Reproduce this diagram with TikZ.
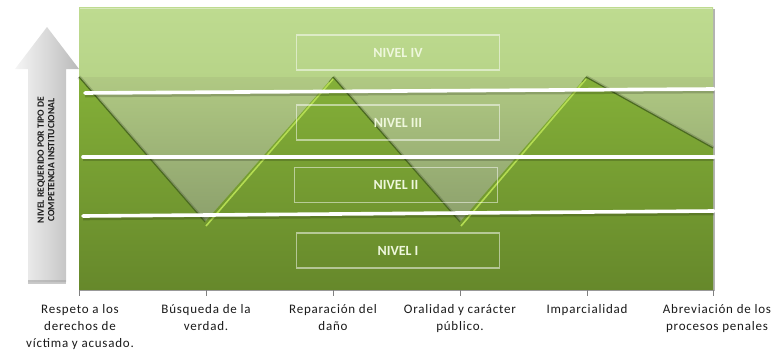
\documentclass[tikz,border=0pt]{standalone}
\usepackage{fontspec}
\setmainfont{Carlito}[BoldFont={Carlito Bold}]
\newfontfamily\catfont[LetterSpace=6]{Carlito}
\newfontfamily\boldcal{Carlito Bold}
\usetikzlibrary{calc}
\definecolor{bgtop}{HTML}{BEDB90}
\definecolor{bgmid}{HTML}{B0CD80}
\definecolor{bgbot}{HTML}{8BA85E}
\definecolor{areatop}{HTML}{84B038}
\definecolor{areabot}{HTML}{66882B}
\definecolor{vtop}{HTML}{B0C983}
\definecolor{vbot}{HTML}{8CA06C}
\definecolor{edgedark}{HTML}{4B6A21}
\definecolor{edgelight}{HTML}{B4DC52}
\definecolor{lvltext}{HTML}{EEF7DC}
\definecolor{labtext}{HTML}{1A1A1A}
\begin{document}
\begin{tikzpicture}[x=1pt,y=-1pt,
  whiteline/.style={white, line width=3.6pt, line cap=round},
  lineshadow/.style={black, opacity=0.18, line width=3.6pt},
  lvlbox/.style={draw=white, draw opacity=0.5, line width=1.1pt, minimum width=203pt,
    minimum height=35pt, inner sep=0pt, text=lvltext,
    font=\boldcal\fontsize{14}{15}\selectfont},
  catlabel/.style={anchor=north, align=center, text=labtext, inner sep=0pt,
    font=\catfont\fontsize{13}{17}\selectfont},
  darkedge/.style={edgedark, line width=1.2pt},
  darkshadow/.style={black, opacity=0.15, line width=4pt},
  lightedge/.style={edgelight, line width=1.6pt},
  tick/.style={gray, line width=0.6pt}
]
\useasboundingbox (0,0) rectangle (772,364);

% ---- arrow at left
\shade[left color=white!92!gray, right color=gray!55, middle color=gray!30]
  (47,27) -- (79,69) -- (66,69) -- (66,282) -- (28,282) -- (28,69) -- (15,69) -- cycle;
\fill[gray!70, opacity=0.6] (28,280) rectangle (66,284);
\node[rotate=90, align=center, text=labtext, inner sep=0pt,
  font=\boldcal\fontsize{9.6}{10.5}\selectfont] (axislabel) at (46,160)
  {NIVEL REQUERIDO POR TIPO DE\\COMPETENCIA INSTITUCIONAL};

% ---- plot area background
\fill[gray!60] (81,9) rectangle (715,291);
\shade[top color=bgtop, bottom color=bgbot, middle color=bgmid] (79,7) rectangle (713,290);
\draw[white, opacity=0.4, line width=1pt] (80,8) -- (712,8);

% ---- named points of the zigzag
\coordinate (p0) at (79,77);
\coordinate (v1) at (205,222);
\coordinate (p1) at (333,77);
\coordinate (v2) at (460,222);
\coordinate (p2) at (586,77);
\coordinate (e0) at (713,148);
\coordinate (e1) at (713,77);
\coordinate (bl) at (79,290);
\coordinate (br) at (713,290);

% ---- shadowed V regions
\shade[top color=vtop, bottom color=vbot] (p0) -- (v1) -- (p1) -- cycle;
\shade[top color=vtop, bottom color=vbot] (p1) -- (v2) -- (p2) -- cycle;
\shade[top color=vtop, bottom color=vbot!50!vtop] (p2) -- (e0) -- (e1) -- cycle;

% ---- area
\draw[darkshadow] (p0) -- (v1);
\draw[darkshadow] (p1) -- (v2);
\draw[darkshadow] (p2) -- (e0);
\shade[top color=areatop, bottom color=areabot]
  (p0) -- (v1) -- (p1) -- (v2) -- (p2) -- (e0) -- (br) -- (bl) -- cycle;
\draw[darkedge] (p0) -- (v1);
\draw[darkedge] (p1) -- (v2);
\draw[darkedge] (p2) -- (e0);
\draw[lightedge] ($(v1)+(1,4)$) -- ($(p1)+(0,2)$);
\draw[lightedge] ($(v2)+(1,4)$) -- ($(p2)+(0,2)$);
\draw[edgedark, line width=0.8pt, opacity=0.6] ($(p1)+(-4,5)$) -- (p1);
\draw[edgedark, line width=0.8pt, opacity=0.6] ($(p2)+(-4,5)$) -- (p2);

% ---- white level lines
\coordinate (a1) at (85,93);  \coordinate (b1) at (714,89);
\coordinate (a2) at (83,157); \coordinate (b2) at (714,157);
\coordinate (a3) at (83,216); \coordinate (b3) at (714,211);
\foreach \a/\b in {a1/b1,a2/b2,a3/b3}{
  \draw[lineshadow] ($(\a)+(0,2.5)$) -- ($(\b)+(0,2.5)$);
  \draw[whiteline] (\a) -- (\b);
}

% ---- level boxes
\node[lvlbox] (n4) at (398,52.5) {NIVEL IV};
\node[lvlbox] (n3) at (398,122.5) {NIVEL III};
\node[lvlbox] (n2) at (396,185) {NIVEL II};
\node[lvlbox] (n1) at (398,250.5) {NIVEL I};

% ---- axis and ticks
\draw[gray!80, line width=0.8pt] (bl) -- (br);
\foreach \x in {79,206,333,460,587,713}{
  \draw[tick] (\x,290) -- (\x,296);
}

% ---- category labels
\node[catlabel] (c1) at (80,304) {Respeto a los\\derechos de\\víctima y acusado.};
\node[catlabel] (c2) at (206,304) {Búsqueda de la\\verdad.};
\node[catlabel] (c3) at (333,304) {Reparación del\\daño};
\node[catlabel] (c4) at (460,304) {Oralidad y carácter\\público.};
\node[catlabel] (c5) at (587,304) {Imparcialidad};
\node[catlabel] (c6) at (717,304) {Abreviación de los\\procesos penales};
\end{tikzpicture}
\end{document}
